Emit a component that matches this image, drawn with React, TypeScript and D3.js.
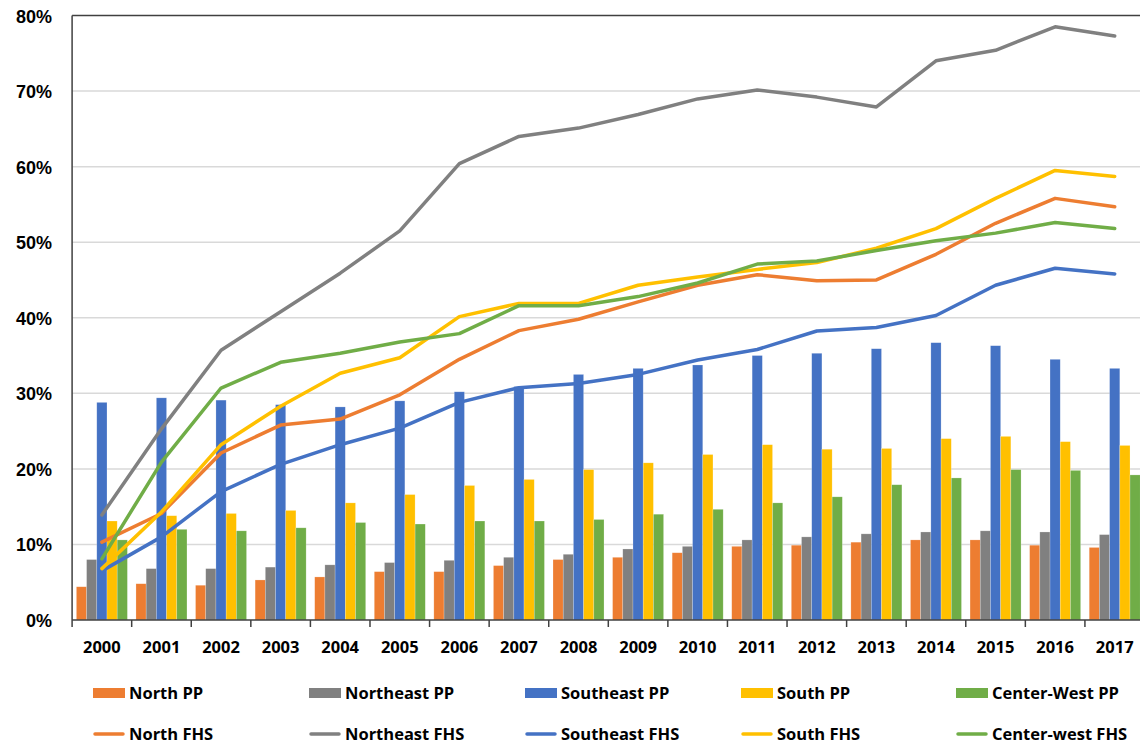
import React from "react";
import * as d3 from "d3";

const years = ["2000","2001","2002","2003","2004","2005","2006","2007","2008","2009","2010","2011","2012","2013","2014","2015","2016","2017"];

const northPP = [4.4,4.8,4.6,5.3,5.7,6.4,6.4,7.2,8.0,8.3,8.9,9.75,9.9,10.3,10.6,10.6,9.9,9.6];
const northeastPP = [8.0,6.8,6.8,7.0,7.3,7.6,7.9,8.3,8.7,9.4,9.75,10.6,11.0,11.4,11.65,11.8,11.65,11.3];
const southeastPP = [28.8,29.4,29.1,28.5,28.2,29.0,30.2,30.9,32.5,33.3,33.75,35.0,35.3,35.9,36.7,36.3,34.5,33.3];
const southPP = [13.1,13.8,14.1,14.5,15.5,16.6,17.8,18.6,19.9,20.8,21.9,23.2,22.6,22.7,24.0,24.3,23.6,23.1];
const centerWestPP = [10.6,12.0,11.8,12.2,12.9,12.7,13.1,13.1,13.3,14.0,14.65,15.5,16.3,17.9,18.8,19.9,19.8,19.2];

const northFHS = [10.3,14.1,22.1,25.8,26.6,29.8,34.5,38.3,39.8,42.1,44.3,45.7,44.9,45.0,48.4,52.5,55.8,54.7];
const northeastFHS = [13.9,25.3,35.7,40.8,45.9,51.5,60.4,64.0,65.1,66.9,68.96,70.15,69.2,67.9,74.0,75.4,78.5,77.3];
const southeastFHS = [6.5,11.0,17.0,20.6,23.2,25.4,28.8,30.75,31.3,32.5,34.4,35.8,38.25,38.7,40.3,44.3,46.55,45.8];
const southFHS = [6.8,14.3,23.2,28.3,32.65,34.7,40.15,41.9,41.9,44.3,45.4,46.4,47.3,49.2,51.8,55.8,59.5,58.7];
const centerWestFHS = [8.1,20.9,30.7,34.1,35.3,36.8,37.9,41.6,41.6,42.8,44.6,47.1,47.5,48.9,50.2,51.2,52.6,51.8];

const yTicks = [0,10,20,30,40,50,60,70,80];

const barSeries = [
  { name: "North PP", color: "#ED7D31", values: northPP },
  { name: "Northeast PP", color: "#808080", values: northeastPP },
  { name: "Southeast PP", color: "#4472C4", values: southeastPP },
  { name: "South PP", color: "#FFC000", values: southPP },
  { name: "Center-West PP", color: "#70AD47", values: centerWestPP },
];

const lineSeries = [
  { name: "North FHS", color: "#ED7D31", values: northFHS },
  { name: "Northeast FHS", color: "#808080", values: northeastFHS },
  { name: "Southeast FHS", color: "#4472C4", values: southeastFHS },
  { name: "South FHS", color: "#FFC000", values: southFHS },
  { name: "Center-west FHS", color: "#70AD47", values: centerWestFHS },
];

const W = 1140, H = 744;
const left = 72.1, right = 1144.5, top = 15.5, bottom = 620;

export default function App() {
  const x = d3.scaleBand<string>().domain(years).range([left, right]).padding(0);
  const sub = d3.scaleBand<string>().domain(barSeries.map(s => s.name)).range([0, x.bandwidth()]).paddingInner(0).paddingOuter(0.42);
  const y = d3.scaleLinear().domain([0, 80]).range([bottom, top]);
  const line = d3.line<number>().x((_, i) => (x(years[i]) as number) + x.bandwidth() / 2).y(v => y(v));
  const legendCols = [93, 309, 525, 741, 956];
  const font = "'Open Sans', sans-serif";

  return (
    <svg width={W} height={H} style={{ position: "absolute", left: 0, top: 0, background: "#fff" }}>
      <rect x={0} y={0} width={W} height={H} fill="#fff" />
      {yTicks.filter(t => t > 0 && t < 80).map(t => (
        <line key={t} x1={left} x2={W} y1={y(t)} y2={y(t)} stroke="#D9D9D9" strokeWidth={1.5} />
      ))}
      {barSeries.map(s => (
        <g key={s.name}>
          {s.values.map((v, i) => (
            <rect key={i} x={(x(years[i]) as number) + (sub(s.name) as number)} y={y(v)} width={sub.bandwidth()} height={y(0) - y(v)} fill={s.color} stroke="#fff" strokeOpacity={0.35} strokeWidth={0.6} />
          ))}
        </g>
      ))}
      {lineSeries.map(s => (
        <path key={s.name} d={line(s.values) || ""} fill="none" stroke={s.color} strokeWidth={3.5} strokeLinecap="round" strokeLinejoin="round" />
      ))}
      <line x1={left} x2={W} y1={top} y2={top} stroke="#404040" strokeWidth={1.5} />
      <line x1={left} x2={left} y1={top} y2={bottom} stroke="#404040" strokeWidth={1.5} />
      <line x1={left} x2={W} y1={bottom} y2={bottom} stroke="#404040" strokeWidth={1.5} />
      {years.map((yr, i) => (
        <line key={"t" + yr} x1={(x(yr) as number)} x2={(x(yr) as number)} y1={bottom} y2={bottom + 7} stroke="#404040" strokeWidth={1.5} />
      ))}
      {yTicks.map(t => (
        <text key={t} x={52} y={y(t) + 7} textAnchor="end" fontFamily="'Liberation Sans', Arial, sans-serif" fontWeight="bold" fontSize={18} fill="#000">{t}%</text>
      ))}
      {years.map(yr => (
        <text key={yr} x={(x(yr) as number) + x.bandwidth() / 2} y={653} textAnchor="middle" fontFamily={font} fontWeight="bold" fontSize={16.5} fill="#000">{yr}</text>
      ))}
      {barSeries.map((s, i) => (
        <g key={"lb" + s.name}>
          <rect x={legendCols[i]} y={688} width={32} height={10} fill={s.color} />
          <text x={legendCols[i] + 36} y={699} fontFamily={font} fontWeight="bold" fontSize={16.5} fill="#000">{s.name}</text>
        </g>
      ))}
      {lineSeries.map((s, i) => (
        <g key={"ll" + s.name}>
          <line x1={legendCols[i] + 2} x2={legendCols[i] + 30} y1={734} y2={734} stroke={s.color} strokeWidth={3.5} strokeLinecap="round" />
          <text x={legendCols[i] + 36} y={740} fontFamily={font} fontWeight="bold" fontSize={16.5} fill="#000">{s.name}</text>
        </g>
      ))}
    </svg>
  );
}
